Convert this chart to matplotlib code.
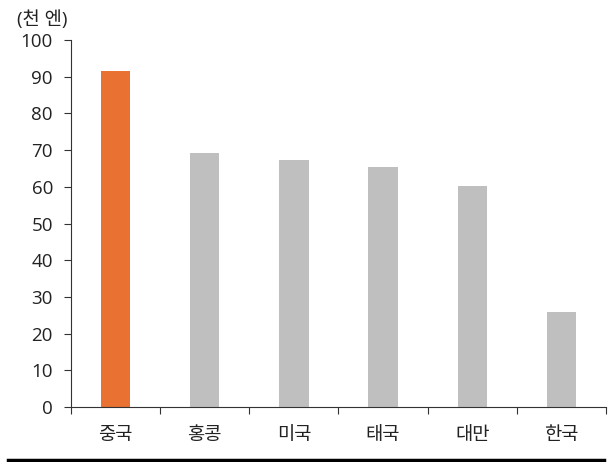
import matplotlib
matplotlib.use("Agg")
import matplotlib.pyplot as plt
import numpy as np

plt.rcParams['font.family'] = ['Open Sans', 'Noto Sans CJK KR', 'DejaVu Sans']

categories = ['중국', '홍콩', '미국', '태국', '대만', '한국']
values = [91.5, 69.2, 67.4, 65.3, 60.3, 25.9]
colors = ['#E97132', '#BFBFBF', '#BFBFBF', '#BFBFBF', '#BFBFBF', '#BFBFBF']
yticks = [0, 10, 20, 30, 40, 50, 60, 70, 80, 90, 100]
unit_label = '(천 엔)'

fig = plt.figure(figsize=(6.1, 4.62), dpi=100)
ax = fig.add_axes([0.1164, 0.119, 0.877, 0.7944])

x = np.arange(len(categories))
ax.bar(x, values, width=0.33, color=colors, zorder=2)

ax.set_xlim(-0.5, len(categories) - 0.5)
ax.set_ylim(0, 100)
ax.set_yticks(yticks)
ax.set_yticklabels([str(v) for v in yticks], fontsize=13.5, color='#222222')
ax.set_xticks(x)
ax.set_xticklabels(categories, fontsize=13.5, color='#222222', family=['Noto Sans CJK KR', 'DejaVu Sans'])
ax.tick_params(axis='x', which='major', length=0, pad=12)
ax.set_xticks(np.arange(len(categories) + 1) - 0.5, minor=True)
ax.tick_params(axis='x', which='minor', length=5, width=0.8, color='#333333', direction='out')
ax.tick_params(axis='y', length=5, width=0.8, color='#333333', direction='out', pad=8)

for s in ['top', 'right']:
    ax.spines[s].set_visible(False)
for s in ['left', 'bottom']:
    ax.spines[s].set_linewidth(0.8)
    ax.spines[s].set_color('#333333')

fig.text(0.028, 0.958, unit_label, fontsize=13.5, color='#222222', va='center', ha='left',
         family=['Open Sans', 'Noto Sans CJK KR', 'DejaVu Sans'])

fig.add_artist(plt.Line2D([0.013, 0.99], [0.005, 0.005], color='black', linewidth=2.5, transform=fig.transFigure))

fig.savefig('out.png', dpi=100)
